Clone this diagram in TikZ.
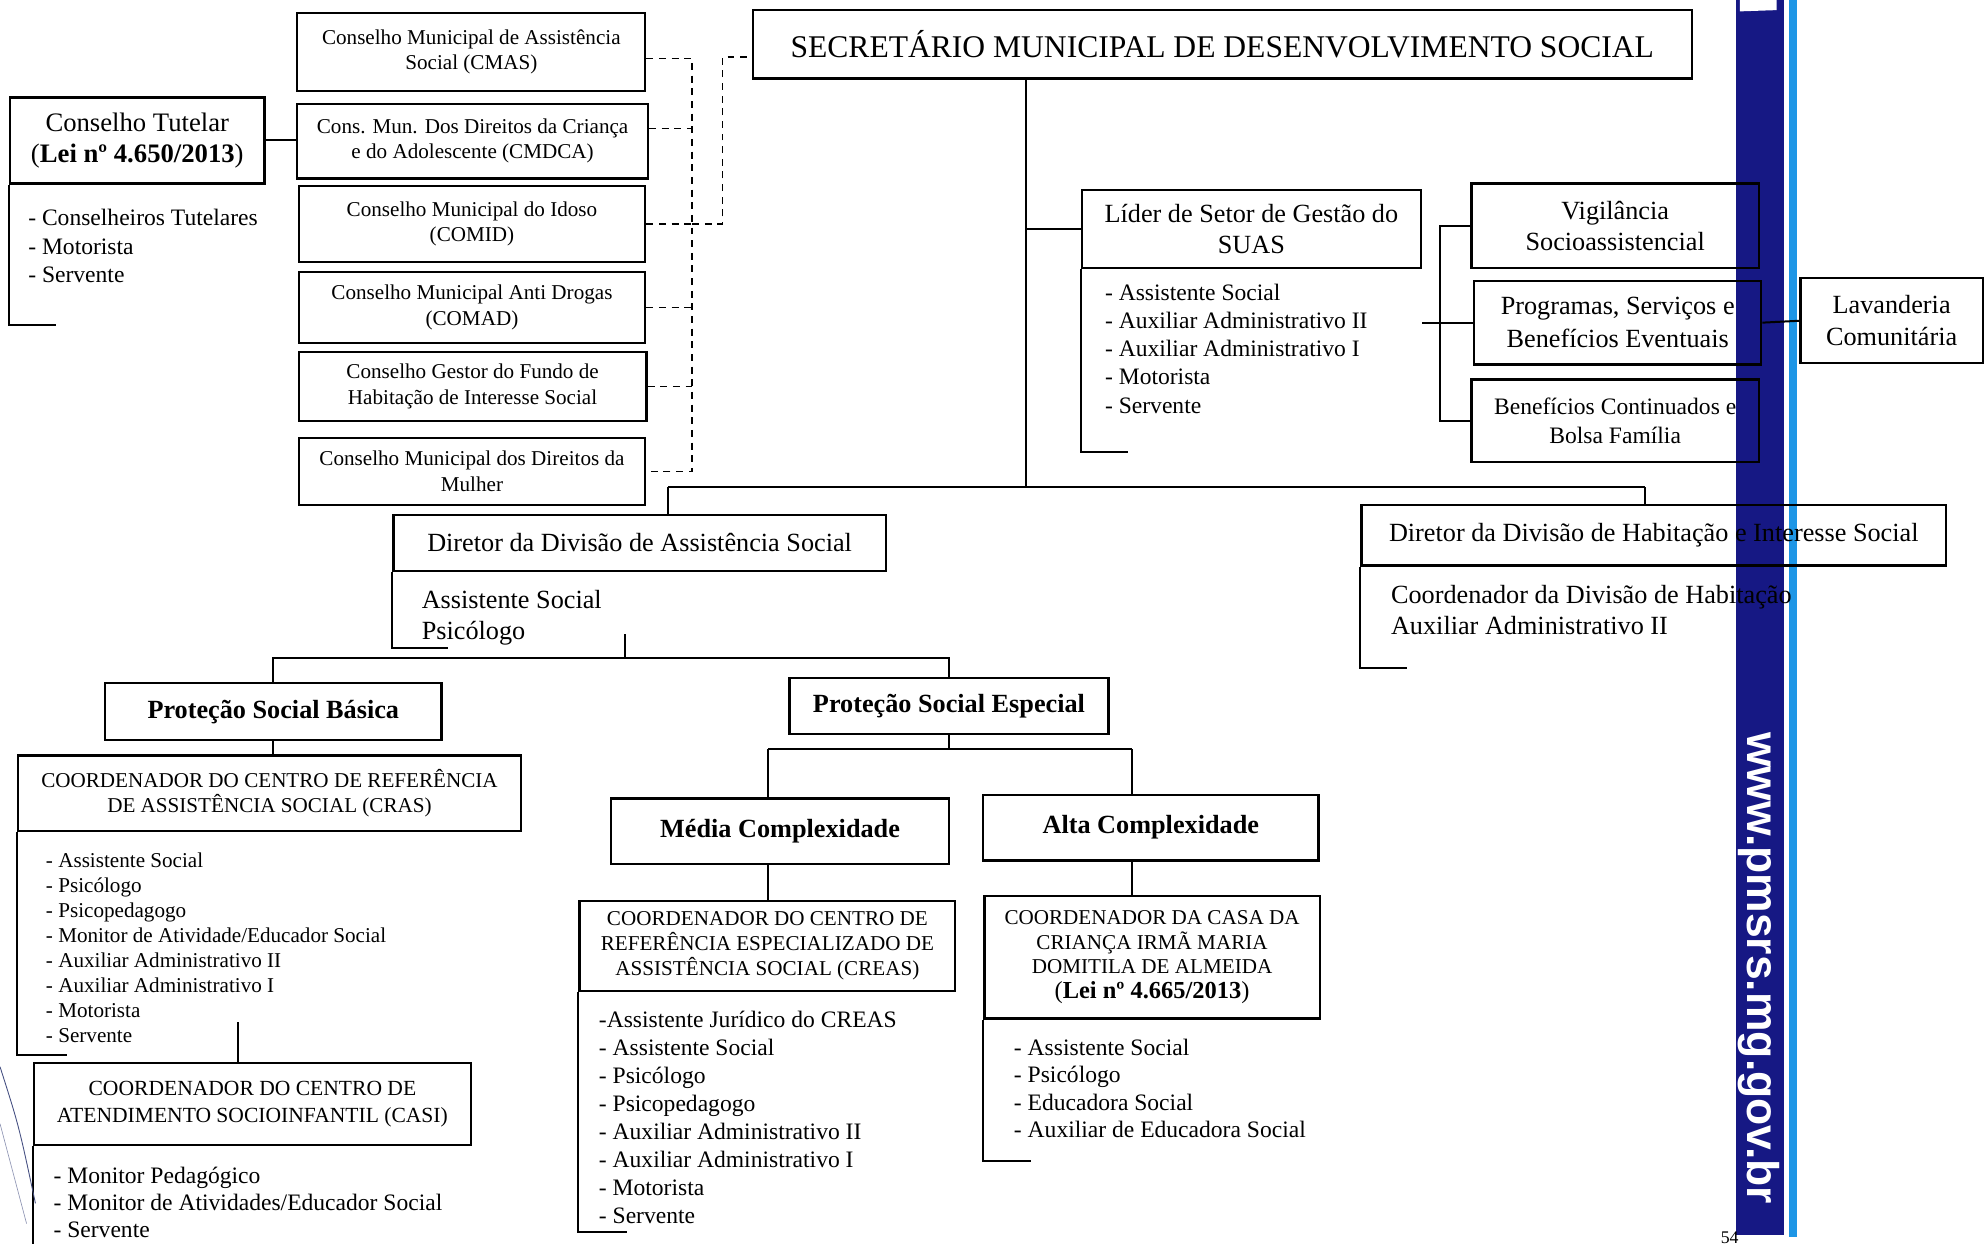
\documentclass[tikz,border=0pt]{standalone}
\usepackage{fontspec}
\setmainfont{Liberation Serif}
\setsansfont{Liberation Sans}

\definecolor{faixa}{RGB}{22,24,132}
\definecolor{filete}{RGB}{30,150,230}
\definecolor{caneta}{RGB}{70,80,130}

\newcommand{\ftitulo}{\fontsize{14.2}{16}\selectfont}
\newcommand{\fgrande}{\fontsize{11.8}{14.2}\selectfont}
\newcommand{\fmedio}{\fontsize{10.6}{12.7}\selectfont}
\newcommand{\fpequeno}{\fontsize{9.5}{11.4}\selectfont}

\tikzset{
	caixa/.style={draw, line width=1pt, align=center, inner sep=0pt},
	lista/.style={anchor=north west, align=left, inner sep=0pt},
	liga/.style={line width=.9pt},
	tracejado/.style={line width=.6pt, dash pattern=on 1.1mm off .9mm},
}

\begin{document}
\begin{tikzpicture}[x=0.02cm, y=-0.02cm]
	\useasboundingbox (0,0) rectangle (1568,983);

	% faixa lateral
	\fill[faixa] (1372,0) rectangle (1410,976);
	\fill[filete] (1414,0) rectangle (1420,978);
	\fill[white] (1375,0) -- (1404,0) -- (1404,8) -- (1375,9) -- cycle;
	\node[rotate=-90, anchor=base, text=white, font=\sffamily\bfseries\fontsize{20}{23}\selectfont] (url) at (1381,765) {www.pmsrs.mg.gov.br};
	\node[anchor=south, inner sep=0pt, font=\fontsize{8}{9}\selectfont] (pag) at (1367,983) {54};

	% conselhos
	\node[caixa, font=\fpequeno, minimum width=5.5cm, minimum height=1.24cm] (cmas) at (372.5,41) {Conselho Municipal de Assistência\\Social (CMAS)};
	\node[caixa, font=\fpequeno, minimum width=5.54cm, minimum height=1.18cm] (cmdca) at (373.5,111.5) {Cons. Mun. Dos Direitos da Criança\\e do Adolescente (CMDCA)};
	\node[caixa, font=\fpequeno, minimum width=5.48cm, minimum height=1.2cm] (comid) at (373,177) {Conselho Municipal do Idoso\\(COMID)};
	\node[caixa, font=\fpequeno, minimum width=5.48cm, minimum height=1.12cm] (comad) at (373,243) {Conselho Municipal Anti Drogas\\(COMAD)};
	\node[caixa, font=\fpequeno, minimum width=5.5cm, minimum height=1.1cm] (fundo) at (373.5,305.5) {Conselho Gestor do Fundo de\\Habitação de Interesse Social};
	\node[caixa, font=\fpequeno, minimum width=5.48cm, minimum height=1.06cm] (mulher) at (373,372.5) {Conselho Municipal dos Direitos da\\Mulher};

	\node[caixa, font=\fontsize{12}{14.2}\selectfont, minimum width=4.02cm, minimum height=1.36cm] (tutelar) at (108.5,111) {Conselho Tutelar\\(\textbf{Lei nº 4.650/2013})};
	\node[lista, font=\fontsize{10.6}{12.8}\selectfont] (ltutelar) at (22,165) {- Conselheiros Tutelares\\- Motorista\\- Servente};

	% secretario e setor de gestao
	\node[caixa, font=\ftitulo, minimum width=14.84cm, minimum height=1.08cm] (sec) at (966,35) {SECRETÁRIO MUNICIPAL DE DESENVOLVIMENTO SOCIAL};
	\node[caixa, font=\fontsize{11.8}{13.7}\selectfont, minimum width=5.36cm, minimum height=1.24cm] (lider) at (989,181) {Líder de Setor de Gestão do\\SUAS};
	\node[lista, font=\fmedio] (llider) at (873,224) {- Assistente Social\\- Auxiliar Administrativo II\\- Auxiliar Administrativo I\\- Motorista\\- Servente};

	\node[caixa, font=\fgrande, minimum width=4.54cm, minimum height=1.34cm] (vig) at (1276.5,178.5) {Vigilância\\Socioassistencial};
	\node[caixa, font=\fontsize{11.8}{14.8}\selectfont, minimum width=4.54cm, minimum height=1.32cm] (prog) at (1278.5,255) {Programas, Serviços e\\Benefícios Eventuais};
	\node[caixa, font=\fmedio, minimum width=4.54cm, minimum height=1.3cm] (bpc) at (1276.5,332.5) {Benefícios Continuados e\\Bolsa Família};
	\node[caixa, font=\fgrande, minimum width=2.88cm, minimum height=1.34cm] (lav) at (1495,253.5) {Lavanderia\\Comunitária};

	% diretores
	\node[caixa, font=\fgrande, minimum width=7.78cm, minimum height=.88cm] (dirAS) at (505.5,429) {Diretor da Divisão de Assistência Social};
	\node[lista, font=\fgrande] (ldirAS) at (333,466) {Assistente Social\\Psicólogo};
	\node[caixa, font=\fgrande, minimum width=9.24cm, minimum height=.96cm] (dirHab) at (1307,423) {Diretor da Divisão de Habitação e Interesse Social};
	\node[lista, font=\fgrande] (ldirHab) at (1099,462) {Coordenador da Divisão de Habitação\\Auxiliar Administrativo II};

	% protecao basica
	\node[caixa, font=\bfseries\fgrande, minimum width=5.32cm, minimum height=.9cm] (basica) at (216,562.5) {Proteção Social Básica};
	\node[caixa, font=\fpequeno, minimum width=7.96cm, minimum height=1.2cm] (cras) at (213,627) {COORDENADOR DO CENTRO DE REFERÊNCIA\\DE ASSISTÊNCIA SOCIAL (CRAS)};
	\node[lista, font=\fontsize{9.5}{11.2}\selectfont] (lcras) at (36,674) {- Assistente Social\\- Psicólogo\\- Psicopedagogo\\- Monitor de Atividade/Educador Social\\- Auxiliar Administrativo II\\- Auxiliar Administrativo I\\- Motorista\\- Servente};
	\node[caixa, font=\fontsize{9.7}{12.4}\selectfont, minimum width=6.9cm, minimum height=1.3cm] (casi) at (199.5,872.5) {COORDENADOR DO CENTRO DE\\ATENDIMENTO SOCIOINFANTIL (CASI)};
	\node[lista, font=\fontsize{10.6}{12.2}\selectfont] (lcasi) at (42,922) {- Monitor Pedagógico\\- Monitor de Atividades/Educador Social\\- Servente};

	% protecao especial
	\node[caixa, font=\bfseries\fgrande, minimum width=5.04cm, minimum height=.88cm] (especial) at (750,558) {Proteção Social Especial};
	\node[caixa, font=\bfseries\fgrande, minimum width=5.34cm, minimum height=1.04cm] (media) at (616.5,657) {Média Complexidade};
	\node[caixa, font=\bfseries\fgrande, minimum width=5.3cm, minimum height=1.04cm] (alta) at (909.5,654) {Alta Complexidade};
	\node[caixa, font=\fontsize{9.5}{11.1}\selectfont, minimum width=5.94cm, minimum height=1.42cm] (creas) at (606.5,747.5) {COORDENADOR DO CENTRO DE\\REFERÊNCIA ESPECIALIZADO DE\\ASSISTÊNCIA SOCIAL (CREAS)};
	\node[lista, font=\fontsize{10.6}{12.6}\selectfont] (lcreas) at (473,799) {-Assistente Jurídico do CREAS\\- Assistente Social\\- Psicólogo\\- Psicopedagogo\\- Auxiliar Administrativo II\\- Auxiliar Administrativo I\\- Motorista\\- Servente};
	\node[caixa, font=\fontsize{9.5}{11.1}\selectfont, minimum width=5.3cm, minimum height=1.94cm] (casa) at (910.5,756.5) {COORDENADOR DA CASA DA\\CRIANÇA IRMÃ MARIA\\DOMITILA DE ALMEIDA\\{\fontsize{11}{13}\selectfont(\textbf{Lei nº 4.665/2013})}};
	\node[lista, font=\fontsize{10.6}{12.3}\selectfont] (lcasa) at (801,821) {- Assistente Social\\- Psicólogo\\- Educadora Social\\- Auxiliar de Educadora Social};

	% colchetes das listas
	\draw[liga] (tutelar.south west) -- ++(0,111) -- ++(37,0);
	\draw[liga] (lider.south west) -- ++(0,144) -- ++(37,0);
	\draw[liga] (dirAS.south west) -- ++(0,60) -- ++(44,0);
	\draw[liga] (dirHab.south west) -- ++(0,80) -- ++(37,0);
	\draw[liga] (cras.south west) -- ++(0,176) -- ++(40,0);
	\draw[liga] (casi.south west) -- ++(0,90);
	\draw[liga] (creas.south west) -- ++(0,190) -- ++(38,0);
	\draw[liga] (casa.south west) -- ++(0,112) -- ++(38,0);

	% ligacoes tracejadas dos conselhos
	\coordinate (dv) at (547,200);
	\coordinate (dsec) at (571,45);
	\draw[tracejado] ([yshift=-1mm]cmas.east) -| (dv) |- (mulher.east);
	\draw[tracejado] ([yshift=2mm]cmdca.east) -- ([yshift=2mm]cmdca.east -| dv);
	\draw[tracejado] (comid.east) -- (comid.east -| dv);
	\draw[tracejado] (comad.east) -- (comad.east -| dv);
	\draw[tracejado] (fundo.east) -- (fundo.east -| dv);
	\draw[tracejado] (comid.east -| dv) -| (dsec) -- (dsec -| sec.west);
	\draw[liga] (tutelar.east) -- (tutelar.east -| cmdca.west);

	% ligacoes do secretario
	\coordinate (tronco) at (811,385);
	\coordinate (ba) at (528,385);
	\coordinate (bh) at (1300,385);
	\draw[liga] (sec.south -| tronco) -- (tronco);
	\draw[liga] (lider.west -| tronco) -- (lider.west);
	\draw[liga] (ba) -- (bh);
	\draw[liga] (ba) -- (ba |- dirAS.north);
	\draw[liga] (bh) -- (bh |- dirHab.north);

	\coordinate (gv) at (1138,255);
	\draw[liga] (lider.east |- prog.west) -- (prog.west);
	\draw[liga] (vig.west) -| (gv) |- (bpc.west);
	\draw[liga] (prog.east) -- (lav.west);

	% ligacoes da divisao de assistencia
	\coordinate (bb) at (494,520);
	\draw[liga] (bb) -- ++(0,-19);
	\draw[liga] (basica.north) |- (bb) -| (especial.north);
	\draw[liga] (basica.south) -- (basica.south |- cras.north);
	\coordinate (cc) at (188,808);
	\draw[liga] (cc) -- (cc |- casi.north);

	\coordinate (be) at (750,592);
	\coordinate (bm) at (607,592);
	\coordinate (bal) at (895,592);
	\draw[liga] (especial.south) -- (be);
	\draw[liga] (bm) -- (bal);
	\draw[liga] (bm) -- (bm |- media.north);
	\draw[liga] (bal) -- (bal |- alta.north);
	\draw[liga] (bm |- media.south) -- (bm |- creas.north);
	\draw[liga] (bal |- alta.south) -- (bal |- casa.north);

	% marcas de caneta
	\draw[caneta, line width=.4pt] (0,843) .. controls (15,890) .. (28,951);
	\draw[caneta!60, line width=.3pt] (0,888) -- (21,967);
\end{tikzpicture}
\end{document}
